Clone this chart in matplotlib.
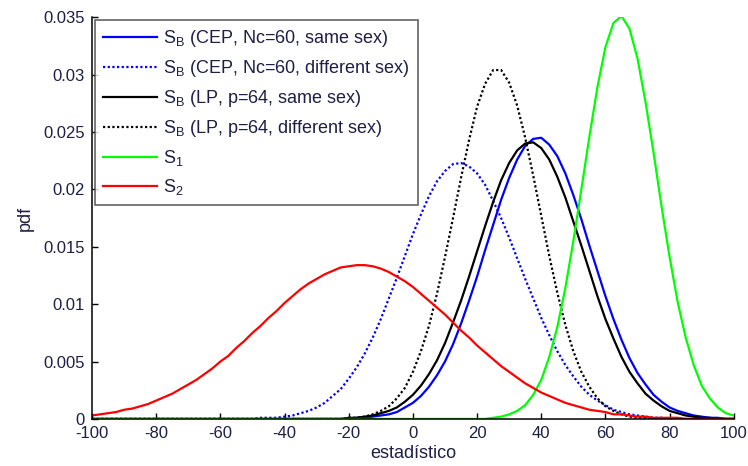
import numpy as np
import matplotlib
matplotlib.use("Agg")
import matplotlib.pyplot as plt

plt.rcParams['font.family'] = ['Liberation Sans', 'DejaVu Sans']
plt.rcParams['mathtext.fontset'] = 'custom'
plt.rcParams['mathtext.rm'] = 'Liberation Sans'
plt.rcParams['mathtext.it'] = 'Liberation Sans'
plt.rcParams['axes.unicode_minus'] = False

# estadístico: puntos de muestreo de -100 a 100 cada 2.5
x = np.linspace(-100, 100, 81)

# S_B (CEP, Nc=60, same sex)
cep_same = [0.0] * 33 + [
    0.0001, 0.0001, 0.0002, 0.0003, 0.0004, 0.0006, 0.0010,
    0.0014, 0.0020, 0.0028, 0.0038, 0.0050, 0.0065, 0.0083, 0.0103,
    0.0124, 0.0147, 0.0169, 0.0191, 0.0210, 0.0226, 0.0238, 0.0244,
    0.0245, 0.0239, 0.0229, 0.0214, 0.0195, 0.0174, 0.0151, 0.0129,
    0.0107, 0.0087, 0.0069, 0.0053, 0.0040, 0.0030, 0.0021, 0.0015,
    0.0010, 0.0007, 0.0005, 0.0003, 0.0002, 0.0001, 0.0001, 0.0, 0.0]

# S_B (CEP, Nc=60, different sex)
cep_diff = [0.0] * 21 + [
    0.0001, 0.0001, 0.0001, 0.0002, 0.0003, 0.0005, 0.0007, 0.0010,
    0.0014, 0.0020, 0.0026, 0.0035, 0.0045, 0.0057, 0.0071, 0.0087,
    0.0105, 0.0123, 0.0142, 0.0161, 0.0178, 0.0194, 0.0207, 0.0216,
    0.0222, 0.0223, 0.0220, 0.0214, 0.0204, 0.0190, 0.0175, 0.0158,
    0.0140, 0.0122, 0.0105, 0.0088, 0.0073, 0.0059, 0.0047, 0.0037,
    0.0028, 0.0021, 0.0016, 0.0012, 0.0008, 0.0006, 0.0004, 0.0003,
    0.0002, 0.0001, 0.0001] + [0.0] * 9

# S_B (LP, p=64, same sex)
lp_same = [0.0] * 32 + [
    0.0001, 0.0001, 0.0002, 0.0003, 0.0005, 0.0007, 0.0010, 0.0015,
    0.0021, 0.0029, 0.0039, 0.0051, 0.0066, 0.0084, 0.0103, 0.0124,
    0.0146, 0.0168, 0.0189, 0.0208, 0.0223, 0.0234, 0.0240, 0.0241,
    0.0236, 0.0226, 0.0211, 0.0193, 0.0172, 0.0151, 0.0129, 0.0107,
    0.0087, 0.0070, 0.0054, 0.0041, 0.0031, 0.0022, 0.0016, 0.0011,
    0.0007, 0.0005, 0.0003, 0.0002, 0.0001, 0.0001, 0.0, 0.0, 0.0]

# S_B (LP, p=64, different sex)
lp_diff = [0.0] * 32 + [
    0.0001, 0.0001, 0.0002, 0.0004, 0.0007, 0.0011, 0.0018, 0.0027,
    0.0041, 0.0059, 0.0081, 0.0109, 0.0141, 0.0175, 0.0210, 0.0243,
    0.0272, 0.0292, 0.0304, 0.0304, 0.0293, 0.0273, 0.0245, 0.0212,
    0.0177, 0.0142, 0.0110, 0.0082, 0.0059, 0.0041, 0.0028, 0.0018,
    0.0011, 0.0007, 0.0004, 0.0002, 0.0001, 0.0001, 0.0, 0.0] + [0.0] * 9

# S_1
s1 = [0.0] * 50 + [
    0.0001, 0.0002, 0.0004, 0.0007, 0.0012, 0.0021, 0.0034, 0.0054,
    0.0080, 0.0114, 0.0155, 0.0200, 0.0246, 0.0289, 0.0324, 0.0345,
    0.0351, 0.0340, 0.0314, 0.0276, 0.0232, 0.0185, 0.0141, 0.0102,
    0.0071, 0.0047, 0.0029, 0.0018, 0.0010, 0.0005, 0.0003]

# S_2
s2 = [
    0.0003, 0.0004, 0.0005, 0.0006, 0.0008, 0.0009, 0.0011, 0.0013,
    0.0016, 0.0019, 0.0022, 0.0026, 0.0030, 0.0034, 0.0039, 0.0044,
    0.0050, 0.0055, 0.0062, 0.0068, 0.0075, 0.0081, 0.0088, 0.0094,
    0.0101, 0.0107, 0.0113, 0.0118, 0.0122, 0.0126, 0.0129, 0.0132,
    0.0133, 0.0134, 0.0134, 0.0133, 0.0131, 0.0128, 0.0124, 0.0120,
    0.0115, 0.0109, 0.0103, 0.0097, 0.0091, 0.0084, 0.0077, 0.0071,
    0.0064, 0.0058, 0.0052, 0.0046, 0.0041, 0.0036, 0.0031, 0.0027,
    0.0023, 0.0020, 0.0017, 0.0014, 0.0012, 0.0010, 0.0008, 0.0007,
    0.0006, 0.0004, 0.0004, 0.0003, 0.0002, 0.0002, 0.0001, 0.0001,
    0.0001, 0.0001, 0.0, 0.0, 0.0, 0.0, 0.0, 0.0, 0.0]

labels = [r'S$_\mathrm{B}$ (CEP, Nc=60, same sex)',
          r'S$_\mathrm{B}$ (CEP, Nc=60, different sex)',
          r'S$_\mathrm{B}$ (LP, p=64, same sex)',
          r'S$_\mathrm{B}$ (LP, p=64, different sex)',
          r'S$_\mathrm{1}$',
          r'S$_\mathrm{2}$']

text_color = '#1e1e46'
dots = (0, (1, 1.1))

fig = plt.figure(figsize=(7.48, 4.66), dpi=100)
ax = fig.add_axes([0.123, 0.101, 0.858, 0.862])

ax.plot(x, cep_same, color='#0000ff', lw=1.6, label=labels[0])
ax.plot(x, cep_diff, color='#0000ff', lw=1.6, ls=dots, label=labels[1])
ax.plot(x, lp_same, color='black', lw=1.6, label=labels[2])
ax.plot(x, lp_diff, color='black', lw=1.6, ls=dots, label=labels[3])
ax.plot(x, s1, color='#00ff00', lw=1.6, label=labels[4])
ax.plot(x, s2, color='#ff0000', lw=1.6, label=labels[5])

ax.set_xlim(-100, 100)
ax.set_ylim(0, 0.035)
ax.set_xticks(np.arange(-100, 101, 20))
ax.set_yticks(np.arange(0, 0.0351, 0.005))
ax.set_yticklabels(['0', '0.005', '0.01', '0.015', '0.02', '0.025', '0.03', '0.035'])

for side in ['top', 'right']:
    ax.spines[side].set_visible(False)
for side in ['left', 'bottom']:
    ax.spines[side].set_linewidth(1.1)
ax.tick_params(direction='in', length=4, width=1, labelsize=12,
               labelcolor=text_color, pad=5)

ax.set_xlabel('estadístico', fontsize=13, color=text_color, labelpad=3)
ax.set_ylabel('pdf', fontsize=13, color=text_color, labelpad=7)

leg = ax.legend(loc='upper left', fontsize=13, frameon=True, fancybox=False,
                edgecolor='#3c3c3c', borderaxespad=0.15, borderpad=0.45,
                handlelength=3.0, handletextpad=0.35, labelspacing=0.5)
leg.get_frame().set_linewidth(1.2)
for t in leg.get_texts():
    t.set_color(text_color)

fig.savefig('out.png', dpi=100)
